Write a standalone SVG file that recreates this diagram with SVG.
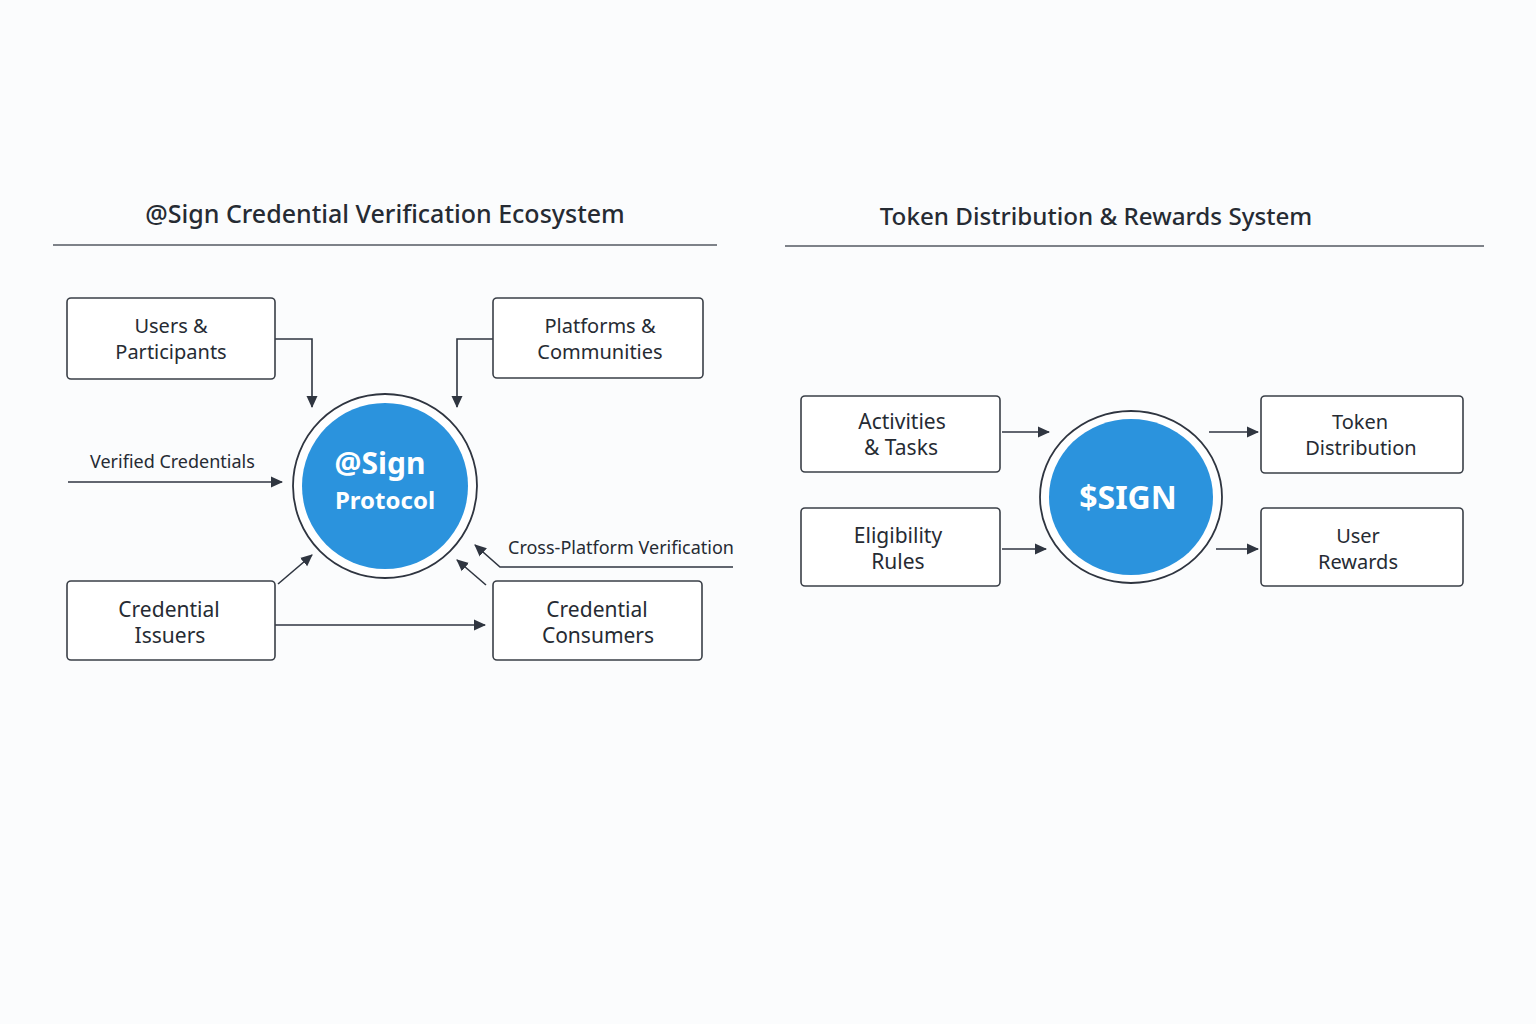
<svg xmlns="http://www.w3.org/2000/svg" width="1536" height="1024" viewBox="0 0 1536 1024">
<defs>
<marker id="ah" markerWidth="12" markerHeight="12" refX="11" refY="6" orient="auto" markerUnits="userSpaceOnUse" viewBox="0 0 12 12">
<path d="M0,0.5 L12,6 L0,11.5 Z" fill="#2f3540"/>
</marker>
<style>
.box{fill:#ffffff;stroke:#3a3f47;stroke-width:1.6}
.t{font-family:"Noto Sans","Open Sans",sans-serif;font-size:20px;fill:#262b33;text-anchor:middle}
.t2{font-size:21px}
.lbl{font-family:"Noto Sans","Open Sans",sans-serif;font-size:18px;fill:#262b33}
.title{font-family:"Noto Sans","Open Sans",sans-serif;font-size:25px;fill:#262b33;text-anchor:middle;font-weight:500}
.title2{font-size:24.2px}
.rule{stroke:#555a62;stroke-width:1.5}
.c{fill:none;stroke:#2f3540;stroke-width:1.6}
.ring{fill:#ffffff;stroke:#2f3540;stroke-width:1.8}
.core{fill:#2b93dd}
.w{font-family:"Noto Sans","Open Sans",sans-serif;fill:#ffffff;text-anchor:middle;font-weight:bold}
</style>
</defs>
<rect width="1536" height="1024" fill="#fbfcfd"/>

<g id="titles">
<text class="title" x="385" y="223">@Sign Credential Verification Ecosystem</text>
<line class="rule" x1="53" y1="245" x2="717" y2="245"/>
<text class="title title2" x="1096" y="225">Token Distribution &amp; Rewards System</text>
<line class="rule" x1="785" y1="246" x2="1484" y2="246"/>
</g>

<g id="connectors">
<path class="c" d="M275,339 H312 V407" marker-end="url(#ah)"/>
<path class="c" d="M493,339 H457 V407" marker-end="url(#ah)"/>
<path class="c" d="M68,482 H282" marker-end="url(#ah)"/>
<path class="c" d="M278,584 L312,555" marker-end="url(#ah)"/>
<path class="c" d="M275,625 H485" marker-end="url(#ah)"/>
<path class="c" d="M486,585 L457,560" marker-end="url(#ah)"/>
<path class="c" d="M733,567 H500 L475,545" marker-end="url(#ah)"/>
<path class="c" d="M1002,432 H1049" marker-end="url(#ah)"/>
<path class="c" d="M1002,549 H1046" marker-end="url(#ah)"/>
<path class="c" d="M1209,432 H1258" marker-end="url(#ah)"/>
<path class="c" d="M1216,549 H1258" marker-end="url(#ah)"/>
<text class="lbl" x="90" y="468">Verified Credentials</text>
<text class="lbl" x="508" y="554">Cross-Platform Verification</text>
</g>

<g id="users">
<rect class="box" x="67" y="298" width="208" height="81" rx="4"/>
<text class="t" x="171" y="333">Users &amp;</text>
<text class="t" x="171" y="359">Participants</text>
</g>
<g id="platforms">
<rect class="box" x="493" y="298" width="210" height="80" rx="4"/>
<text class="t" x="600" y="333">Platforms &amp;</text>
<text class="t" x="600" y="359">Communities</text>
</g>
<g id="sign-protocol">
<circle class="ring" cx="385" cy="486" r="92"/>
<circle class="core" cx="385" cy="486" r="83"/>
<text class="w" x="380" y="474" font-size="30">@Sign</text>
<text class="w" x="385" y="509" font-size="24" font-weight="600">Protocol</text>
</g>
<g id="issuers">
<rect class="box" x="67" y="581" width="208" height="79" rx="4"/>
<text class="t t2" x="169" y="617">Credential</text>
<text class="t t2" x="170" y="643">Issuers</text>
</g>
<g id="consumers">
<rect class="box" x="493" y="581" width="209" height="79" rx="4"/>
<text class="t t2" x="597" y="617">Credential</text>
<text class="t t2" x="598" y="643">Consumers</text>
</g>

<g id="activities">
<rect class="box" x="801" y="396" width="199" height="76" rx="4"/>
<text class="t t2" x="902" y="429">Activities</text>
<text class="t t2" x="901" y="455">&amp; Tasks</text>
</g>
<g id="eligibility">
<rect class="box" x="801" y="508" width="199" height="78" rx="4"/>
<text class="t t2" x="898" y="543">Eligibility</text>
<text class="t t2" x="898" y="569">Rules</text>
</g>
<g id="sign-token">
<ellipse class="ring" cx="1131" cy="497" rx="91" ry="86"/>
<ellipse class="core" cx="1131" cy="497" rx="82" ry="78"/>
<text class="w" x="1128" y="509" font-size="32" font-weight="600">$SIGN</text>
</g>
<g id="token-distribution">
<rect class="box" x="1261" y="396" width="202" height="77" rx="4"/>
<text class="t" x="1360" y="429">Token</text>
<text class="t" x="1361" y="455">Distribution</text>
</g>
<g id="user-rewards">
<rect class="box" x="1261" y="508" width="202" height="78" rx="4"/>
<text class="t" x="1358" y="543">User</text>
<text class="t" x="1358" y="569">Rewards</text>
</g>
</svg>
